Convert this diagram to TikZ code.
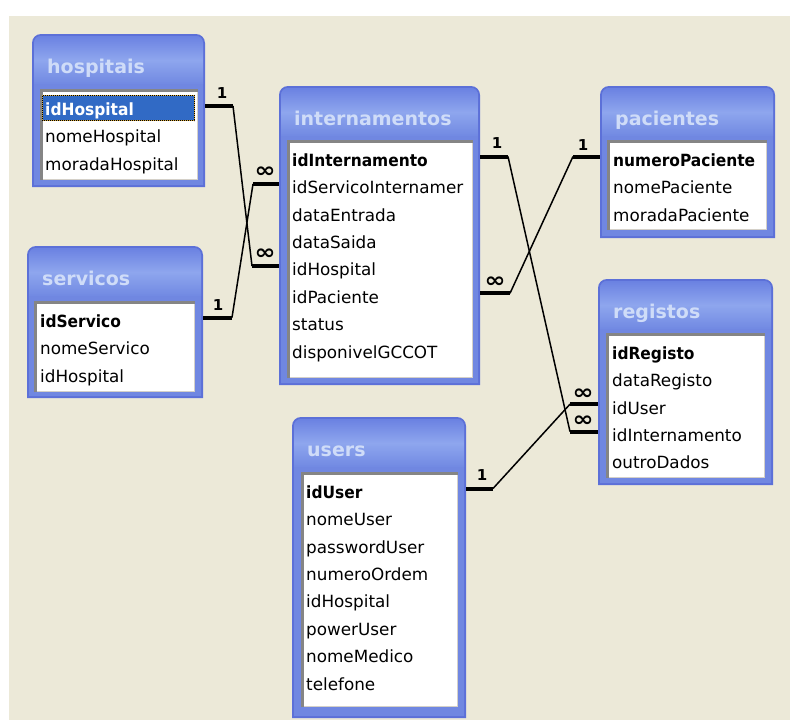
\documentclass[tikz,border=0pt]{standalone}
\usepackage{fontspec}
\setmainfont{DejaVu Sans}
\usepackage{graphicx}
\usetikzlibrary{fit}
\definecolor{bg}{HTML}{ECE9D8}
\definecolor{fedge}{HTML}{5C70D8}
\definecolor{fbody}{HTML}{7087E1}
\definecolor{ttop}{HTML}{6B82E2}
\definecolor{tmid}{HTML}{8EA6EE}
\definecolor{tbot}{HTML}{7189E2}
\definecolor{ttext}{HTML}{CFDCF8}
\definecolor{sel}{HTML}{316AC5}
\definecolor{bevel}{HTML}{858585}
\definecolor{bevlight}{HTML}{D4D0C8}
\definecolor{focus}{HTML}{E0B040}

\tikzset{
  titletext/.style={font=\bfseries\fontsize{19}{22}\selectfont, text=ttext, inner sep=0pt, anchor=base west},
  rowtext/.style={font=\fontsize{16.8}{20}\selectfont, inner sep=0pt, anchor=base west},
  stub/.style={line width=4pt},
  relline/.style={line width=1.5pt},
  card/.style={font=\bfseries\fontsize{15}{17}\selectfont, inner sep=0pt},
  many/.style={font=\bfseries\fontsize{21}{23}\selectfont, inner sep=0pt},
  holder/.style={inner sep=0pt, draw=none},
}

\newcommand\pk[1]{\scalebox{0.92}[1]{\bfseries #1}}
\newcommand\manysym{\scalebox{1.2}[1]{∞}}

% #1 name, #2 x1, #3 y1, #4 x2, #5 y2, #6 title
\newcommand\dbtab[6]{%
  \fill[fedge] (#2,#5) [rounded corners=9pt] -- (#2,#3) -- (#4,#3) [sharp corners] -- (#4,#5) -- cycle;
  \fill[fbody] (#2+2,#5-2) [rounded corners=7pt] -- (#2+2,#3+2) -- (#4-2,#3+2) [sharp corners] -- (#4-2,#5-2) -- cycle;
  \shade[top color=ttop, bottom color=tbot, middle color=tmid] (#2+2,#3+50) [rounded corners=7pt] -- (#2+2,#3+2) -- (#4-2,#3+2) [sharp corners] -- (#4-2,#3+50) -- cycle;
  \node[holder, fit={(#2,#3) (#4,#5)}] (#1) {};
  \node[titletext] (#1-title) at (#2+15,#3+39) {#6};
}
% #1 name, #2 x1, #3 y1, #4 x2, #5 y2
\newcommand\dbbox[5]{%
  \fill[white] (#2,#3) rectangle (#4,#5);
  \draw[bevlight, line width=1.5pt] (#2,#5-0.75) -- (#4-0.75,#5-0.75) -- (#4-0.75,#3);
  \draw[bevel, line width=2.5pt] (#2+1.25,#5) -- (#2+1.25,#3+1.25) -- (#4,#3+1.25);
  \node[holder, fit={(#2,#3) (#4,#5)}] (#1) {};
}

\begin{document}
\begin{tikzpicture}[x=1pt,y=-1pt]
\useasboundingbox (0,0) rectangle (790,720);
\fill[white] (0,0) rectangle (790,720);
\fill[bg] (9,16) rectangle (790,720);

% ---------- hospitais ----------
\dbtab{hospitais}{32}{34}{205}{187}{hospitais}
\dbbox{hospitais-box}{40}{89}{198}{180}
\fill[sel] (42,95) rectangle (195,121);
\draw[focus, line width=1pt] (42.5,95.5) rectangle (194.5,120.5);
\draw[black, line width=1pt, dash pattern=on 1pt off 1pt] (42.5,95.5) rectangle (194.5,120.5);
\node[rowtext, text=white] (hosp-1) at (45,115.5) {\pk{idHospital}};
\node[rowtext] (hosp-2) at (45,142.9) {nomeHospital};
\node[rowtext] (hosp-3) at (45,170.2) {moradaHospital};

% ---------- servicos ----------
\dbtab{servicos}{27}{246}{203}{398}{servicos}
\dbbox{servicos-box}{34}{301}{195}{392}
\node[rowtext] (serv-1) at (40,327.5) {\pk{idServico}};
\node[rowtext] (serv-2) at (40,354.9) {nomeServico};
\node[rowtext] (serv-3) at (40,382.2) {idHospital};

% ---------- internamentos ----------
\dbtab{internamentos}{279}{86}{480}{385}{internamentos}
\dbbox{internamentos-box}{287}{140}{473}{378}
\node[rowtext] (int-1) at (292,166.5) {\pk{idInternamento}};
\node[rowtext] (int-2) at (292,193.9) {idServicoInternamer};
\node[rowtext] (int-3) at (292,221.2) {dataEntrada};
\node[rowtext] (int-4) at (292,248.6) {dataSaida};
\node[rowtext] (int-5) at (292,275.9) {idHospital};
\node[rowtext] (int-6) at (292,303.3) {idPaciente};
\node[rowtext] (int-7) at (292,330.6) {status};
\node[rowtext] (int-8) at (292,358.0) {disponivelGCCOT};

% ---------- pacientes ----------
\dbtab{pacientes}{600}{86}{775}{238}{pacientes}
\dbbox{pacientes-box}{607}{140}{767}{230}
\node[rowtext] (pac-1) at (613,166.5) {\pk{numeroPaciente}};
\node[rowtext] (pac-2) at (613,193.9) {nomePaciente};
\node[rowtext] (pac-3) at (613,221.2) {moradaPaciente};

% ---------- registos ----------
\dbtab{registos}{598}{279}{773}{485}{registos}
\dbbox{registos-box}{606}{333}{765}{478}
\node[rowtext] (reg-1) at (612,359.5) {\pk{idRegisto}};
\node[rowtext] (reg-2) at (612,386.9) {dataRegisto};
\node[rowtext] (reg-3) at (612,414.2) {idUser};
\node[rowtext] (reg-4) at (612,441.6) {idInternamento};
\node[rowtext] (reg-5) at (612,468.9) {outroDados};

% ---------- users ----------
\dbtab{users}{292}{417}{466}{718}{users}
\dbbox{users-box}{301}{472}{458}{707}
\node[rowtext] (usr-1) at (306,498.5) {\pk{idUser}};
\node[rowtext] (usr-2) at (306,525.9) {nomeUser};
\node[rowtext] (usr-3) at (306,553.2) {passwordUser};
\node[rowtext] (usr-4) at (306,580.6) {numeroOrdem};
\node[rowtext] (usr-5) at (306,607.9) {idHospital};
\node[rowtext] (usr-6) at (306,635.3) {powerUser};
\node[rowtext] (usr-7) at (306,662.6) {nomeMedico};
\node[rowtext] (usr-8) at (306,690.0) {telefone};

% ---------- relationships ----------
% hospitais.idHospital -> internamentos.idHospital
\coordinate (h-end) at (233,106);
\coordinate (ih-end) at (252,266);
\draw[stub] (hospitais.east |- h-end) -- (h-end);
\draw[stub] (internamentos.west |- ih-end) -- (ih-end);
\draw[relline] (h-end) -- (ih-end);
\node[card] (lbl-h) at (222,93) {1};
\node[many] (lbl-ih) at (265,254) {\manysym};

% servicos.idServico -> internamentos.idServicoInternamento
\coordinate (s-end) at (232,317.5);
\coordinate (is-end) at (253,184);
\draw[stub] (servicos.east |- s-end) -- (s-end);
\draw[stub] (internamentos.west |- is-end) -- (is-end);
\draw[relline] (s-end) -- (is-end);
\node[card] (lbl-s) at (218,305) {1};
\node[many] (lbl-is) at (265,172) {\manysym};

% internamentos.idInternamento -> registos.idInternamento
\coordinate (ii-end) at (508,156.5);
\coordinate (ri-end) at (570,431.6);
\draw[stub] (internamentos.east |- ii-end) -- (ii-end);
\draw[stub] (registos.west |- ri-end) -- (ri-end);
\draw[relline] (ii-end) -- (ri-end);
\node[card] (lbl-ii) at (497,143) {1};
\node[many] (lbl-ri) at (583,421) {\manysym};

% pacientes.numeroPaciente -> internamentos.idPaciente
\coordinate (p-end) at (573,156.5);
\coordinate (ip-end) at (510,293.3);
\draw[stub] (pacientes.west |- p-end) -- (p-end);
\draw[stub] (internamentos.east |- ip-end) -- (ip-end);
\draw[relline] (p-end) -- (ip-end);
\node[card] (lbl-p) at (583,145) {1};
\node[many] (lbl-ip) at (495,282) {\manysym};

% users.idUser -> registos.idUser
\coordinate (u-end) at (493,488.5);
\coordinate (ru-end) at (570,404.2);
\draw[stub] (users.east |- u-end) -- (u-end);
\draw[stub] (registos.west |- ru-end) -- (ru-end);
\draw[relline] (u-end) -- (ru-end);
\node[card] (lbl-u) at (482,475) {1};
\node[many] (lbl-ru) at (583,394) {\manysym};
\end{tikzpicture}
\end{document}
